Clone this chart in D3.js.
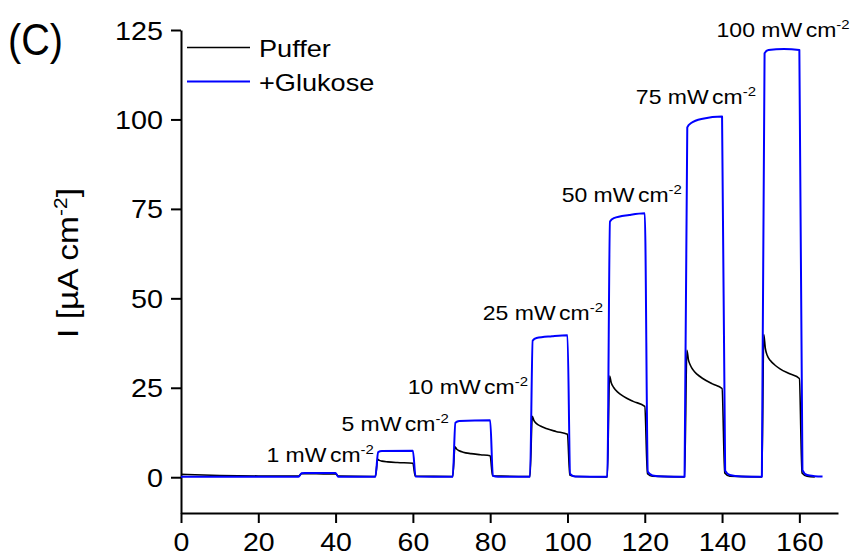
<!DOCTYPE html>
<html>
<head>
<meta charset="utf-8">
<script src="https://cdn.jsdelivr.net/npm/d3@7"></script>
<style>
  html, body { margin: 0; padding: 0; background: #fff; }
  svg { display: block; font-family: "Liberation Sans", Arial, sans-serif; }
</style>
</head>
<body>
<svg id="chart" width="854" height="556"></svg>
<script>
// Photocurrent vs. time under chopped illumination of increasing intensity
const pufferTime = [0, 10, 20, 30, 30.4, 31.2, 35, 40, 40.7, 50,
  50.3, 50.9, 51.3, 52, 53.5, 56, 60, 60.6, 70,
  70.3, 70.9, 71.3, 72, 73, 75, 77.5, 80, 80.6, 90,
  90.3, 90.9, 91.3, 92, 93, 94.5, 97, 100, 100.6, 102, 110,
  110.3, 110.9, 111.3, 112, 113, 114.5, 117, 120, 120.7, 122, 130,
  130.3, 130.9, 131.3, 131.8, 132.5, 133.5, 135, 137.5, 140, 140.7, 142, 150,
  150.3, 150.8, 151.2, 151.7, 152.5, 153.5, 155, 157.5, 160, 160.7, 162, 164];
const pufferCurrent = [0.8, 0.5, 0.35, 0.3, 0.3, 1.0, 0.95, 0.9, 0.3, 0.2,
  0.2, 5.0, 4.7, 4.5, 4.3, 4.1, 3.9, 0.3, 0.2,
  0.2, 8.5, 7.9, 7.4, 7.0, 6.6, 6.3, 6.0, 0.4, 0.2,
  0.2, 17.0, 15.9, 15.0, 14.3, 13.6, 12.8, 12.0, 0.6, 0.2, 0.1,
  0.1, 28.3, 26.5, 25.0, 23.8, 22.6, 21.2, 19.8, 1.0, 0.3, 0.1,
  0.1, 35.5, 32.8, 31.3, 30.0, 28.8, 27.6, 26.1, 24.8, 1.2, 0.3, 0.1,
  0.1, 39.9, 36.0, 34.0, 32.6, 31.5, 30.3, 28.9, 27.6, 1.2, 0.3, 0.1];

const glucoseTime = [0, 10, 20, 30, 30.4, 31.2, 32, 40, 40.7, 50, 50.3, 51.0, 52, 60, 60.7,
  70, 70.3, 71.0, 72, 80, 80.7, 82, 90, 90.3, 91.0, 92, 96, 100, 100.7, 102,
  110, 110.3, 111.0, 112, 116, 120, 120.8, 122, 125, 130, 130.3, 131.0, 132, 135, 140, 140.8, 142, 145,
  150, 150.3, 151.0, 152, 156, 160, 160.8, 162, 164, 166];
const glucoseCurrent = [0.1, 0.1, 0.1, 0.1, 0.1, 1.1, 1.2, 1.2, 0.1, 0.1, 0.1, 7.0, 7.3, 7.4, 0.2,
  0.1, 0.1, 15.2, 15.7, 15.9, 0.4, 0.1, 0.1, 0.1, 38.2, 38.9, 39.4, 39.7, 0.9, 0.2,
  0.1, 0.1, 71.5, 72.4, 73.3, 73.8, 1.5, 0.5, 0.2, 0.1, 0.1, 97.8, 99.0, 100.2, 100.8, 1.8, 0.6, 0.2,
  0.1, 0.1, 118.5, 119.4, 119.7, 119.4, 2.0, 0.6, 0.3, 0.2];

const intensities = ["1", "5", "10", "25", "50", "75", "100"];
const xTicks = [0, 20, 40, 60, 80, 100, 120, 140, 160];
const yTicks = [0, 25, 50, 75, 100, 125];
const seriesNames = ["Puffer", "+Glukose"];

// label placement in data units: right end (time) and baseline (current)
const labelRight = [49.9, 69.3, 89.8, 109.2, 129.6, 148.8, 173];
const labelBase = [4.2, 12.9, 23.4, 43.9, 76.9, 104.3, 123];

const svg = d3.select("#chart");
const x0 = 181, x1 = 838, yTop = 30, yBot = 513;
const x = d3.scaleLinear().domain([0, 170]).range([x0, x1]);
const y = d3.scaleLinear().domain([-10, 125]).range([yBot, yTop]);

const STRETCH = 1.15;

// x axis: minor ticks every 10, labelled ticks every 20
const xAxis = svg.append("g").attr("transform", `translate(0,${yBot})`);
xAxis.call(d3.axisBottom(x).tickValues(d3.range(0, 171, 10)).tickSize(5).tickSizeOuter(0).tickFormat(""));
xAxis.call(d3.axisBottom(x).tickValues(xTicks).tickSize(10).tickSizeOuter(0).tickFormat(d3.format("d")));
xAxis.selectAll("path.domain, line").attr("stroke", "#000").attr("stroke-width", 2);
xAxis.selectAll("text")
  .attr("y", 0).attr("dy", 0)
  .attr("transform", `translate(0,38) scale(1.14,1)`)
  .attr("font-size", 25).attr("fill", "#000")
  .attr("font-family", "Liberation Sans, Arial, sans-serif");

// y axis: minor ticks halfway between labelled ticks
const yAxis = svg.append("g").attr("transform", `translate(${x0},0)`);
yAxis.call(d3.axisLeft(y).tickValues([12.5, 37.5, 62.5, 87.5, 112.5]).tickSize(5).tickSizeOuter(0).tickFormat(""));
yAxis.call(d3.axisLeft(y).tickValues(yTicks).tickSize(10).tickSizeOuter(0).tickFormat(d3.format("d")));
yAxis.selectAll("path.domain, line").attr("stroke", "#000").attr("stroke-width", 2);
yAxis.selectAll("text")
  .attr("x", 0).attr("dy", "0.36em")
  .attr("transform", `translate(-18,0) scale(${STRETCH},1)`)
  .attr("font-size", 25).attr("fill", "#000")
  .attr("font-family", "Liberation Sans, Arial, sans-serif");

// curves
const line = d3.line().x(d => x(d[0])).y(d => y(d[1])).curve(d3.curveMonotoneX);
const puffer = pufferTime.map((t, i) => [t, pufferCurrent[i]]);
const glucose = glucoseTime.map((t, i) => [t, glucoseCurrent[i]]);

svg.append("path").datum(puffer).attr("d", line)
  .attr("fill", "none").attr("stroke", "#000").attr("stroke-width", 1.6).attr("stroke-linejoin", "round");
svg.append("path").datum(glucose).attr("d", line)
  .attr("fill", "none").attr("stroke", "#0000ff").attr("stroke-width", 2).attr("stroke-linejoin", "round");

// intensity labels
intensities.forEach((lab, i) => {
  const t = svg.append("text")
    .attr("text-anchor", "end")
    .attr("font-size", 20)
    .attr("fill", "#000")
    .attr("transform", `translate(${x(labelRight[i])},${y(labelBase[i])}) scale(${STRETCH},1)`);
  t.append("tspan").text(lab + " mW");
  t.append("tspan").attr("dx", 3).text("cm");
  t.append("tspan").attr("font-size", 13).attr("dy", -8).text("-2");
});

// legend
const legendColors = ["#000", "#0000ff"];
const legendY = [47.5, 81.5];
seriesNames.forEach((name, i) => {
  svg.append("line")
    .attr("x1", 187).attr("x2", 250).attr("y1", legendY[i]).attr("y2", legendY[i])
    .attr("stroke", legendColors[i]).attr("stroke-width", i ? 2 : 1.6);
  svg.append("text")
    .attr("transform", `translate(259,${legendY[i] + 9}) scale(1.18,1)`)
    .attr("font-size", 23).attr("fill", "#000")
    .text(name);
});

// y axis title
const yt = svg.append("text")
  .attr("text-anchor", "middle")
  .attr("font-size", 29).attr("fill", "#000")
  .attr("transform", `translate(78,263) rotate(-90) scale(1.16,1)`);
yt.append("tspan").text("I [µA cm");
yt.append("tspan").attr("font-size", 18).attr("dy", -11).text("-2");
yt.append("tspan").attr("dy", 11).text("]");

// panel letter
svg.append("text")
  .attr("transform", "translate(8,55) scale(0.9,1)")
  .attr("font-size", 44).attr("fill", "#000")
  .text("(C)");
</script>
</body>
</html>
